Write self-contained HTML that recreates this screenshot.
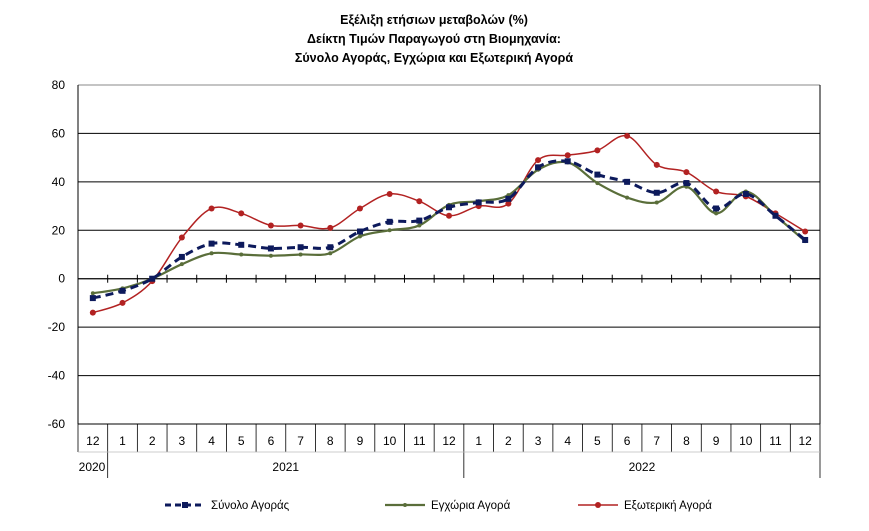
<!DOCTYPE html>
<html><head><meta charset="utf-8"><style>
body{margin:0;background:#fff;font-family:"Liberation Sans",Arial,sans-serif}
</style></head><body>
<svg id="c" width="869" height="526" xmlns="http://www.w3.org/2000/svg">
<g font-weight="bold" font-size="12.5" text-anchor="middle" fill="#000">
<text x="434" y="24">Εξέλιξη ετήσιων μεταβολών (%)</text>
<text x="434" y="43">Δείκτη Τιμών Παραγωγού στη Βιομηχανία:</text>
<text x="434" y="62">Σύνολο Αγοράς, Εγχώρια και Εξωτερική Αγορά</text>
</g>
<g id="grid"></g><g id="series"></g><g id="axes"></g><g id="legend"></g>
</svg>
<script>
const months=["12","1","2","3","4","5","6","7","8","9","10","11","12","1","2","3","4","5","6","7","8","9","10","11","12"];
const yearLabels=["2020","2021","2022"];
const yTicks=[-60,-40,-20,0,20,40,60,80];
const total=[-8,-5,0,9,14.5,14,12.5,13,13,19.5,23.5,24,29.5,31.5,33,46,48.5,43,40,35.5,39.5,29,35,26,16];
const domestic=[-6,-4,0,6,10.5,10,9.5,10,10.5,17.5,20,22,30.5,32,34.5,45,48,39.5,33.5,31.5,38,27,36,26,15.5];
const foreign=[-14,-10,-1,17,29,27,22,22,21,29,35,32,26,30,31,49,51,53,59,47,44,36,34,27,19.5];
const NS="http://www.w3.org/2000/svg";
const L=78,R=820,T=85,B=424,yMin=-60,yMax=80;
const cw=(R-L)/months.length;
const X=i=>L+cw*(i+0.5);
const Y=v=>T+(yMax-v)/(yMax-yMin)*(B-T);
function mk(tag,attrs,parent){const e=document.createElementNS(NS,tag);for(const k in attrs)e.setAttribute(k,attrs[k]);parent.appendChild(e);return e;}
const grid=document.getElementById('grid'),axes=document.getElementById('axes'),ser=document.getElementById('series'),leg=document.getElementById('legend');
yTicks.forEach(v=>{
 const ln=mk('line',{x1:L,x2:R,y1:Y(v),y2:Y(v),stroke:v==80?'#888':'#000','stroke-width':v==0?1.3:1},grid);
 
 
 const t=mk('text',{x:65,y:Y(v)+4,'font-size':12,'text-anchor':'end'},axes);t.textContent=v;
 
 
});
mk('line',{x1:L,x2:L,y1:T,y2:B,stroke:'#000'},axes);
mk('line',{x1:R,x2:R,y1:T,y2:B,stroke:'#000'},axes);
months.forEach((m,i)=>{
 mk('line',{x1:L+cw*(i+1),x2:L+cw*(i+1),y1:Y(0)-4,y2:Y(0)+4,stroke:'#000'},axes);
 const xb=L+cw*i;
 mk('line',{x1:xb,x2:xb,y1:B,y2:(i==1||i==13)?478:452,stroke:'#000','stroke-width':0.8},axes);
 const t=mk('text',{x:X(i),y:445,'font-size':12,'text-anchor':'middle'},axes);t.textContent=m;
 
 
});
mk('line',{x1:R,x2:R,y1:B,y2:478,stroke:'#000','stroke-width':0.8},axes);
mk('line',{x1:L,x2:R,y1:452,y2:452,stroke:'#bbb','stroke-width':0.8},axes);
const yx=[(L+X(0)+cw/2)/2+4,(X(1)+X(12))/2,(X(13)+X(24))/2];
yearLabels.forEach((y,i)=>{const t=mk('text',{x:i==0?92:yx[i],y:471,'font-size':12,'text-anchor':'middle'},axes);t.textContent=y;
 
 });
function smooth(vals){const p=vals.map((v,i)=>[X(i),Y(v)]);let d=`M${p[0][0]},${p[0][1]}`;
 for(let i=0;i<p.length-1;i++){const p0=p[Math.max(i-1,0)],p1=p[i],p2=p[i+1],p3=p[Math.min(i+2,p.length-1)];const k=1/6;
 d+=` C${p1[0]+(p2[0]-p0[0])*k},${p1[1]+(p2[1]-p0[1])*k} ${p2[0]-(p3[0]-p1[0])*k},${p2[1]-(p3[1]-p1[1])*k} ${p2[0]},${p2[1]}`;}return d;}
function series(vals,color,w,dash,marker,name){
 const g=mk('g',{},ser);
 
 
 mk('path',{d:smooth(vals),fill:'none',stroke:color,'stroke-width':w,'stroke-dasharray':dash||'none'},g);
 vals.forEach((v,i)=>{
  let e;
  if(marker=='sq')e=mk('rect',{x:X(i)-3,y:Y(v)-3,width:6,height:6,fill:color},g);
  else e=mk('circle',{cx:X(i),cy:Y(v),r:marker=='c'?3:2,fill:color},g);
  
  
 });
}
series(foreign,'#b22222',1.5,null,'c','series-foreign');
series(domestic,'#5a6e3a',2.2,null,'d','series-domestic');
series(total,'#0d1a5c',3,'8,5','sq','series-total');
const items=[["Σύνολο Αγοράς",'#0d1a5c',3,'6,4','sq',165],["Εγχώρια Αγορά",'#5a6e3a',2.2,null,'d',385],["Εξωτερική Αγορά",'#b22222',1.5,null,'c',578]];
items.forEach(it=>{
 const g=mk('g',{},leg);
 
 
 const x=it[5],y=505;
 mk('line',{x1:x,x2:x+40,y1:y,y2:y,stroke:it[1],'stroke-width':it[2],'stroke-dasharray':it[3]||'none'},g);
 if(it[4]=='sq')mk('rect',{x:x+17,y:y-3,width:6,height:6,fill:it[1]},g);else mk('circle',{cx:x+20,cy:y,r:it[4]=='c'?3:2,fill:it[1]},g);
 const t=mk('text',{x:x+46,y:y+4,'font-size':11.5},g);t.textContent=it[0];
});
</script>
</body></html>
